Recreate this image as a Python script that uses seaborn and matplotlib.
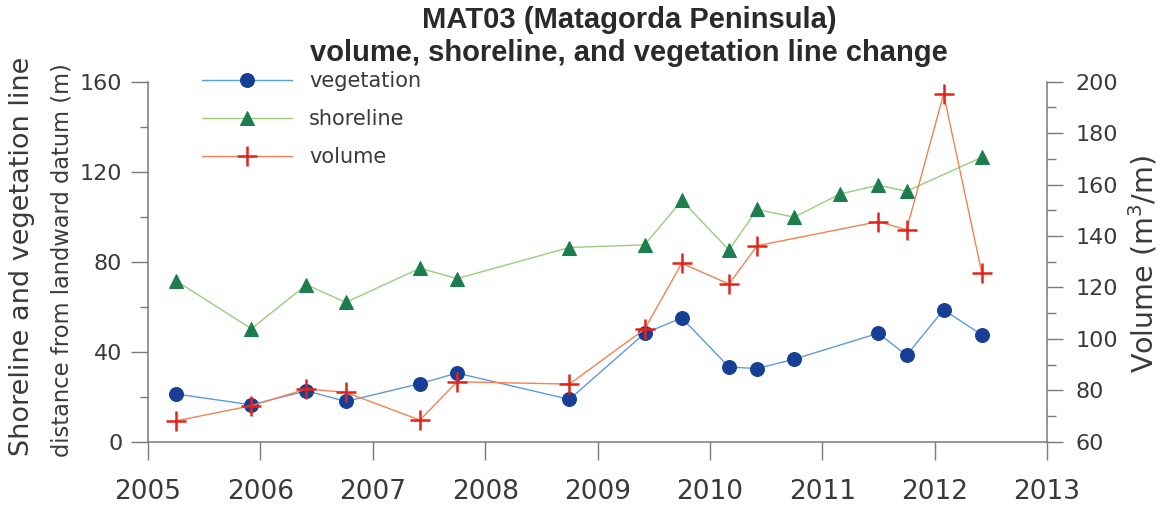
import matplotlib
matplotlib.use("Agg")
import matplotlib.pyplot as plt
from matplotlib.ticker import MultipleLocator
import seaborn as sns
import pandas as pd

# ---- data ----
veg_dates = [2005.25, 2005.92, 2006.41, 2006.76, 2007.42, 2007.75, 2008.75, 2009.42,
             2009.75, 2010.17, 2010.42, 2010.75, 2011.50, 2011.75, 2012.08, 2012.42]
veg_values = [21.2, 16.4, 22.6, 17.9, 25.8, 30.5, 18.8, 48.2,
              55.0, 33.2, 32.5, 36.7, 48.2, 38.4, 58.6, 47.5]

shore_dates = [2005.25, 2005.92, 2006.41, 2006.76, 2007.42, 2007.75, 2008.75, 2009.42,
               2009.75, 2010.17, 2010.42, 2010.75, 2011.16, 2011.50, 2011.75, 2012.42]
shore_values = [71.5, 50.2, 69.8, 61.9, 77.1, 72.5, 86.3, 87.5,
                107.2, 85.2, 103.2, 99.8, 110.1, 114.0, 111.3, 126.4]

vol_dates = [2005.25, 2005.92, 2006.41, 2006.76, 2007.42, 2007.75, 2008.75, 2009.42,
             2009.75, 2010.17, 2010.42, 2011.50, 2011.75, 2012.08, 2012.42]
vol_values = [68.1, 74.0, 80.5, 79.2, 68.4, 83.3, 82.4, 103.8,
              129.4, 121.3, 136.2, 145.6, 142.4, 195.2, 125.6]

x_ticks = [2005, 2006, 2007, 2008, 2009, 2010, 2011, 2012, 2013]
left_ticks = [0, 40, 80, 120, 160]
right_ticks = [60, 80, 100, 120, 140, 160, 180, 200]

title_lines = ["MAT03 (Matagorda Peninsula)", "volume, shoreline, and vegetation line change"]

veg_df = pd.DataFrame({"date": veg_dates, "value": veg_values})
shore_df = pd.DataFrame({"date": shore_dates, "value": shore_values})
vol_df = pd.DataFrame({"date": vol_dates, "value": vol_values})

# ---- style ----
sns.set_style("ticks")
plt.rcParams["font.family"] = ["DejaVu Sans"]
txt = "#3a3a3a"
spine = "#7a7a7a"

W, H = 1164, 508
fig = plt.figure(figsize=(W / 100, H / 100), dpi=100)
fig.patch.set_facecolor("white")
ax = fig.add_axes([148 / W, 1 - 441.7 / H, (1047 - 148) / W, 360 / H])
ax2 = ax.twinx()

sns.lineplot(data=veg_df, x="date", y="value", ax=ax, color="#5b9be0", lw=1.0,
             marker="o", markersize=10, markerfacecolor="#183f96", markeredgecolor="#183f96",
             label="vegetation", legend=False)
sns.lineplot(data=shore_df, x="date", y="value", ax=ax, color="#98cf7c", lw=1.0,
             marker="^", markersize=10, markerfacecolor="#1e7d4e", markeredgecolor="#1e7d4e",
             label="shoreline", legend=False)
sns.lineplot(data=vol_df, x="date", y="value", ax=ax2, color="#f5824f", lw=1.0,
             marker="+", markersize=15, markeredgewidth=1.8, markeredgecolor="#e4241b",
             label="volume", legend=False)

ax.set_xlim(2005, 2013)
ax.set_ylim(0, 160)
ax2.set_ylim(60, 200)
ax.set_xticks(x_ticks)
ax.set_xticklabels([str(t) for t in x_ticks])
ax.set_yticks(left_ticks)
ax.yaxis.set_minor_locator(MultipleLocator(20))
ax2.set_yticks(right_ticks)
ax2.yaxis.set_minor_locator(MultipleLocator(10))
ax.set_xlabel("")
ax.set_ylabel("")
ax2.set_ylabel("")

for s in ["top", "right"]:
    ax.spines[s].set_visible(False)
for s in ["top", "left", "bottom"]:
    ax2.spines[s].set_visible(False)
for a, names in ((ax, ["left", "bottom"]), (ax2, ["right"])):
    for s in names:
        a.spines[s].set_color(spine)
        a.spines[s].set_linewidth(1.1)

ax.tick_params(axis="x", which="major", length=13, width=1.0, color=spine,
               labelsize=19, labelcolor=txt, pad=14, direction="out")
ax.tick_params(axis="y", which="major", length=12.5, width=1.0, color=spine,
               labelsize=16, labelcolor=txt, pad=6, direction="out")
ax.tick_params(axis="y", which="minor", length=6, width=1.0, color=spine, direction="out")
ax2.tick_params(axis="y", which="major", length=11.5, width=1.0, color=spine,
                labelsize=16, labelcolor=txt, pad=9, direction="out")
ax2.tick_params(axis="y", which="minor", length=6.5, width=1.0, color=spine, direction="out")

# legend
handles = ax.get_lines()[:2] + ax2.get_lines()[:1]
labels = ["vegetation", "shoreline", "volume"]
leg = fig.legend(handles, labels, loc="upper left", bbox_to_anchor=(202 / W, 1 - 71 / H),
                 frameon=False, fontsize=15, handlelength=4.3, handletextpad=0.85,
                 labelspacing=0.86, borderpad=0, borderaxespad=0)
for t in leg.get_texts():
    t.set_color(txt)

# titles and axis labels
fig.text(629 / W, 1 - 20 / H, title_lines[0], ha="center", va="center",
         fontsize=21, fontweight="bold", color="#2a2a2a", family="Liberation Sans")
fig.text(629 / W, 1 - 53 / H, title_lines[1], ha="center", va="center",
         fontsize=21, fontweight="bold", color="#2a2a2a", family="Liberation Sans")
fig.text(22 / W, 1 - 256 / H, "Shoreline and vegetation line", rotation=90,
         ha="center", va="center", fontsize=19.5, color=txt)
fig.text(62 / W, 1 - 260 / H, "distance from landward datum (m)", rotation=90,
         ha="center", va="center", fontsize=16.3, color=txt)
fig.text(1143 / W, 1 - 264 / H, "Volume (m$^3$/m)", rotation=90,
         ha="center", va="center", fontsize=20.5, color=txt)

fig.savefig("out.png", dpi=100, facecolor="white")
